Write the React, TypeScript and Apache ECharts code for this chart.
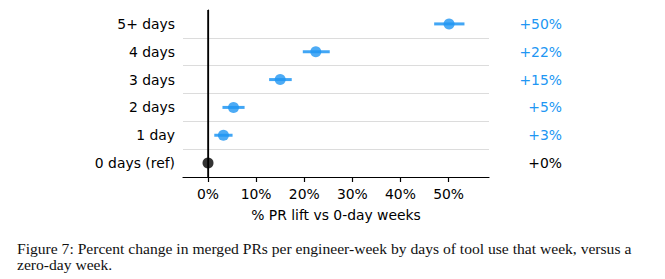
import React, { useEffect, useRef } from "react";
import * as echarts from "echarts";

// Rows, bottom to top
const categories = ["0 days (ref)", "1 day", "2 days", "3 days", "4 days", "5+ days"];
// Percent lift versus 0-day weeks
const lift = [0, 3.2, 5.3, 15.0, 22.4, 50.1];
// 95% interval bounds
const lower = [0, 1.3, 3.0, 12.7, 19.7, 47.0];
const upper = [0, 5.1, 7.6, 17.4, 25.3, 53.3];
const xTicks = [0, 10, 20, 30, 40, 50];

const BLUE = "#2196F3";
const SANS = "DejaVu Sans";
const FS = 13.9;

const captionLines = [
  "Figure 7: Percent change in merged PRs per engineer-week by days of tool use that week, versus a",
  "zero-day week.",
];

export default function App() {
  const ref = useRef<HTMLDivElement>(null);

  useEffect(() => {
    if (!ref.current) return;
    const chart = echarts.init(ref.current, undefined, { renderer: "svg" });

    const fmt = (v: number) => `+${Math.round(v)}%`;
    const rightLabels = lift.map(fmt);

    chart.setOption({
      animation: false,
      grid: { left: 183, right: 176, top: 10, bottom: 102 },
      xAxis: {
        type: "value",
        min: -5.2,
        max: 58.4,
        name: "% PR lift vs 0-day weeks",
        nameLocation: "middle",
        nameGap: 31,
        nameTextStyle: { fontFamily: SANS, fontSize: FS, color: "#000" },
        axisLine: { show: true, lineStyle: { color: "#000", width: 1.2 } },
        axisTick: {
          show: true,
          length: 5,
          customValues: xTicks,
          lineStyle: { color: "#000", width: 1.2 },
        },
        axisLabel: {
          customValues: xTicks,
          margin: 10,
          fontFamily: SANS,
          fontSize: FS,
          color: "#000",
          formatter: (v: number) => `${v}%`,
        },
        splitLine: { show: false },
      },
      yAxis: [
        {
          type: "category",
          data: categories,
          boundaryGap: true,
          axisLine: { show: true, lineStyle: { color: "#000", width: 1.2 } },
          axisTick: { show: false },
          axisLabel: {
            margin: 8,
            fontFamily: SANS,
            fontSize: FS,
            color: "#000",
          },
          splitLine: {
            show: true,
            showMinLine: false,
            showMaxLine: false,
            lineStyle: { color: "#dcdcdc", width: 1 },
          },
        },
        {
          type: "category",
          data: rightLabels,
          position: "right",
          boundaryGap: true,
          axisLine: { show: false },
          axisTick: { show: false },
          splitLine: { show: false },
          axisLabel: {
            align: "right",
            margin: 73,
            fontFamily: SANS,
            fontSize: FS,
            color: (_v: string, i: number) => (lift[i] === 0 ? "#000" : BLUE),
          },
        },
      ],
      series: [
        {
          type: "custom",
          name: "interval",
          data: categories.map((_, i) => [lower[i], upper[i], i]),
          renderItem: (_params: any, api: any) => {
            const lo = api.value(0);
            const hi = api.value(1);
            const y = api.value(2);
            if (hi - lo <= 0) return null;
            const a = api.coord([lo, y]);
            const b = api.coord([hi, y]);
            return {
              type: "line",
              shape: { x1: a[0], y1: a[1], x2: b[0], y2: b[1] },
              style: { stroke: BLUE, lineWidth: 3, opacity: 0.85 },
            };
          },
          z: 2,
        },
        {
          type: "scatter",
          name: "lift",
          symbol: "circle",
          symbolSize: 11,
          data: lift.map((v, i) => ({
            value: [v, i],
            itemStyle: { color: v === 0 ? "#000" : BLUE },
          })),
          z: 4,
          markLine: {
            silent: true,
            symbol: "none",
            label: { show: false },
            lineStyle: { color: "#000", width: 1.5, type: "solid" },
            data: [{ xAxis: 0 }],
            z: 3,
          },
        },
      ],
      graphic: captionLines.map((t, i) => ({
        type: "text",
        left: 17,
        top: 240 + i * 16,
        style: {
          text: t,
          fontFamily: "Liberation Serif",
          fontSize: 15.6,
          fill: "#111",
        },
      })),
    });

    return () => chart.dispose();
  }, []);

  return (
    <div
      ref={ref}
      style={{ position: "fixed", left: 0, top: 0, width: 665, height: 279, background: "#fff" }}
    />
  );
}
